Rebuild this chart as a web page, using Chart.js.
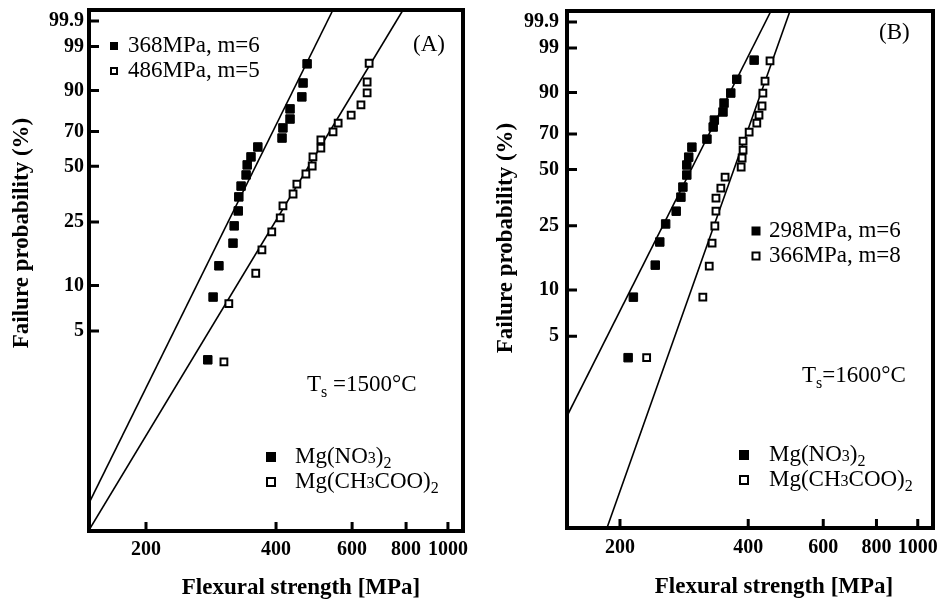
<!DOCTYPE html>
<html>
<head>
<meta charset="utf-8">
<script src="https://cdn.jsdelivr.net/npm/chart.js@4.4.1/dist/chart.umd.min.js"></script>
<style>
  html, body { margin: 0; padding: 0; background: #fff; }
  #wrap { position: relative; width: 948px; height: 605px; }
  canvas { position: absolute; top: 0; }
  #panelA { left: 0; }
  #panelB { left: 474px; }
</style>
</head>
<body>
<div id="wrap">
  <canvas id="panelA" width="474" height="605"></canvas>
  <canvas id="panelB" width="474" height="605"></canvas>
</div>
<script>
// ---- axes ----
const xTicks = [200, 400, 600, 800, 1000];
const yTicks = [5, 10, 25, 50, 70, 90, 99, 99.9];

// ---- panel A, Ts = 1500 C ----
const aNitrateStrength = [278, 286, 295, 318, 320, 327, 328, 332, 341, 343, 350, 363, 413, 415, 431, 431, 459, 462, 472];
const aNitrateProb     = [3.2, 8.4, 13.4, 18.6, 23.7, 29.0, 34.8, 39.8, 45.4, 50.8, 55.3, 61.0, 66.2, 72.0, 76.9, 82.1, 87.5, 92.5, 97.0];
const aAcetateStrength = [303, 311, 359, 371, 391, 409, 415, 438, 447, 469, 485, 487, 508, 508, 542, 557, 597, 629, 650, 650, 657];
const aAcetateProb     = [3.1, 7.6, 12.0, 16.9, 21.8, 26.4, 31.0, 36.1, 40.8, 45.9, 50.2, 55.3, 60.4, 65.1, 69.7, 74.7, 79.0, 84.0, 89.1, 92.8, 97.1];
// fitted lines, end points
const aNitrateFitStrength = [147.6, 541.7];
const aNitrateFitProb     = [0.337, 99.973];
const aAcetateFitStrength = [147.6, 787];
const aAcetateFitProb     = [0.2202, 99.973];

// ---- panel B, Ts = 1600 C ----
const bNitrateStrength = [209, 215, 242, 248, 256, 271, 278, 281, 287, 287, 290, 295, 320, 331, 333, 349, 351, 364, 376, 413];
const bNitrateProb     = [3.6, 9.0, 14.4, 20.0, 25.6, 30.3, 36.2, 40.9, 47.0, 52.4, 56.8, 62.5, 67.1, 73.9, 77.6, 81.7, 85.8, 89.8, 94.1, 97.8];
const bAcetateStrength = [231, 313, 324, 329, 334, 336, 336, 345, 353, 385, 387, 389, 389, 402, 419, 424, 431, 433, 438, 450];
const bAcetateProb     = [3.6, 9.0, 14.2, 19.7, 24.9, 30.3, 35.8, 40.4, 45.9, 51.3, 56.3, 60.8, 66.0, 71.1, 76.0, 80.2, 84.5, 89.8, 93.6, 97.7];
const bNitrateFitStrength = [150.2, 452.4];
const bNitrateFitProb     = [1.4635, 99.973];
const bAcetateFitStrength = [186.4, 501.3];
const bAcetateFitProb     = [0.2564, 99.973];

const SERIF = "'Liberation Serif', 'Times New Roman', serif";
Chart.defaults.font.family = SERIF;
Chart.defaults.color = '#000';

// Weibull probability axis: ln(-ln(1 - F))
const weib = p => Math.log(-Math.log(1 - p / 100));

class WeibullScale extends Chart.Scale {
  static id = 'weibull';
  static defaults = {};
  determineDataLimits() {
    this.min = this.options.min;
    this.max = this.options.max;
  }
  buildTicks() {
    return this.options.tickValues.map(v => ({ value: v }));
  }
  getLabelForValue(v) { return String(v); }
  configure() {
    super.configure();
    this._lo = weib(this.min);
    this._hi = weib(this.max);
  }
  getPixelForValue(v) {
    return this.getPixelForDecimal((weib(v) - this._lo) / (this._hi - this._lo));
  }
  getValueForPixel(px) {
    const w = this._lo + this.getDecimalForPixel(px) * (this._hi - this._lo);
    return 100 * (1 - Math.exp(-Math.exp(w)));
  }
}
Chart.register(WeibullScale);

const pts = (xs, ys) => xs.map((x, i) => ({ x: x, y: ys[i] }));

function drawRuns(ctx, x, y, runs) {
  runs.forEach(r => {
    ctx.font = r.size + 'px ' + SERIF;
    ctx.fillText(r.t, x, y + (r.dy || 0));
    x += ctx.measureText(r.t).width;
  });
}

function makeDecor(cfg) {
  return {
    id: 'decor',
    afterDraw(chart) {
      const ctx = chart.ctx, a = chart.chartArea;
      const xs = chart.scales.x, ys = chart.scales.y;
      ctx.save();
      ctx.strokeStyle = '#000';
      ctx.fillStyle = '#000';
      // inward tick marks
      ctx.lineWidth = 3;
      ctx.beginPath();
      ys.ticks.forEach((t, i) => {
        const p = ys.getPixelForTick(i);
        ctx.moveTo(a.left, p); ctx.lineTo(a.left + 10, p);
      });
      xs.ticks.forEach((t, i) => {
        const p = xs.getPixelForTick(i);
        ctx.moveTo(p, a.bottom); ctx.lineTo(p, a.bottom - 9);
      });
      ctx.stroke();
      // frame
      ctx.lineWidth = 4;
      ctx.strokeRect(a.left, a.top, a.right - a.left, a.bottom - a.top);

      // legend glyphs
      cfg.boxes.forEach(b => {
        if (b.filled) {
          ctx.fillRect(b.x - b.s / 2, b.y - b.s / 2, b.s, b.s);
        } else {
          ctx.lineWidth = 2;
          ctx.strokeRect(b.x - b.s / 2 + 1, b.y - b.s / 2 + 1, b.s - 2, b.s - 2);
        }
      });
      // annotation text
      ctx.textBaseline = 'middle';
      ctx.textAlign = 'left';
      cfg.texts.forEach(t => drawRuns(ctx, t.x, t.y, t.runs));

      // axis titles
      ctx.font = 'bold 23px ' + SERIF;
      ctx.textAlign = 'center';
      ctx.fillText('Flexural strength [MPa]', cfg.xTitle[0], cfg.xTitle[1]);
      ctx.translate(cfg.yTitle[0], cfg.yTitle[1]);
      ctx.rotate(-Math.PI / 2);
      ctx.fillText('Failure probability (%)', 0, 0);
      ctx.restore();
    }
  };
}

function makePanel(id, p) {
  return new Chart(document.getElementById(id), {
    type: 'scatter',
    data: {
      datasets: [
        { data: pts(p.nitS, p.nitP), pointStyle: 'rect', pointRadius: 6,
          backgroundColor: '#000', borderColor: '#000', borderWidth: 1, order: 0 },
        { data: pts(p.aceS, p.aceP), pointStyle: 'rect', pointRadius: 4.8,
          backgroundColor: '#fff', borderColor: '#000', borderWidth: 2, order: 0 },
        { data: pts(p.nitFitS, p.nitFitP), showLine: true, pointRadius: 0,
          borderColor: '#000', borderWidth: 1.6, order: 1 },
        { data: pts(p.aceFitS, p.aceFitP), showLine: true, pointRadius: 0,
          borderColor: '#000', borderWidth: 1.6, order: 1 }
      ]
    },
    options: {
      responsive: false,
      animation: false,
      layout: { padding: { left: 0, right: p.padRight, top: p.padTop, bottom: 0 } },
      plugins: { legend: { display: false }, tooltip: { enabled: false } },
      scales: {
        x: {
          type: 'logarithmic', position: 'bottom',
          min: p.xMin, max: p.xMax,
          grid: { display: false, drawTicks: false },
          border: { display: false },
          afterBuildTicks: s => { s.ticks = xTicks.map(v => ({ value: v })); },
          ticks: { autoSkip: false, maxRotation: 0, padding: p.xLabelPad,
                   font: { size: 20, weight: 'bold' }, callback: v => String(v) },
          afterFit: s => { s.height = p.xAxisH; s.paddingLeft = 0; s.paddingRight = 0; }
        },
        y: {
          type: 'weibull', position: 'left',
          min: p.yMin, max: p.yMax, tickValues: yTicks,
          grid: { display: false, drawTicks: false },
          border: { display: false },
          ticks: { autoSkip: false, padding: p.yLabelPad,
                   font: { size: 20, weight: 'bold' }, callback: v => String(v) },
          afterFit: s => { s.width = p.yAxisW; s.paddingTop = 0; s.paddingBottom = 0; }
        }
      }
    },
    plugins: [makeDecor(p.decor)]
  });
}

const big = 23, small = 16;

makePanel('panelA', {
  nitS: aNitrateStrength, nitP: aNitrateProb,
  aceS: aAcetateStrength, aceP: aAcetateProb,
  nitFitS: aNitrateFitStrength, nitFitP: aNitrateFitProb,
  aceFitS: aAcetateFitStrength, aceFitP: aAcetateFitProb,
  xMin: 147.6, xMax: 1083.6, yMin: 0.2168, yMax: 99.973,
  padRight: 11, padTop: 10, xAxisH: 74, yAxisW: 89, xLabelPad: 7, yLabelPad: 5,
  decor: {
    xTitle: [301, 588], yTitle: [22, 233],
    boxes: [
      { x: 114, y: 46, s: 8, filled: true }, { x: 114, y: 71, s: 8, filled: false },
      { x: 271, y: 457, s: 10, filled: true }, { x: 271, y: 482, s: 10, filled: false }
    ],
    texts: [
      { x: 128, y: 46, runs: [{ t: '368MPa, m=6', size: big }] },
      { x: 128, y: 71, runs: [{ t: '486MPa, m=5', size: big }] },
      { x: 413, y: 45, runs: [{ t: '(A)', size: big }] },
      { x: 307, y: 385, runs: [{ t: 'T', size: big }, { t: 's', size: small, dy: 8 }, { t: ' =1500°C', size: big }] },
      { x: 295, y: 457, runs: [{ t: 'Mg(NO', size: big }, { t: '3', size: small, dy: 2 }, { t: ')', size: big }, { t: '2', size: small, dy: 7 }] },
      { x: 295, y: 482, runs: [{ t: 'Mg(CH', size: big }, { t: '3', size: small, dy: 2 }, { t: 'COO)', size: big }, { t: '2', size: small, dy: 7 }] }
    ]
  }
});

makePanel('panelB', {
  nitS: bNitrateStrength, nitP: bNitrateProb,
  aceS: bAcetateStrength, aceP: bAcetateProb,
  nitFitS: bNitrateFitStrength, nitFitP: bNitrateFitProb,
  aceFitS: bAcetateFitStrength, aceFitP: bAcetateFitProb,
  xMin: 150.2, xMax: 1085.9, yMin: 0.2564, yMax: 99.973,
  padRight: 15, padTop: 11, xAxisH: 77, yAxisW: 93, xLabelPad: 8, yLabelPad: 8,
  decor: {
    xTitle: [300, 587], yTitle: [32, 238],
    boxes: [
      { x: 282, y: 231, s: 9, filled: true }, { x: 282, y: 256, s: 9, filled: false },
      { x: 270, y: 455, s: 10, filled: true }, { x: 270, y: 480, s: 10, filled: false }
    ],
    texts: [
      { x: 295, y: 231, runs: [{ t: '298MPa, m=6', size: big }] },
      { x: 295, y: 256, runs: [{ t: '366MPa, m=8', size: big }] },
      { x: 405, y: 33, runs: [{ t: '(B)', size: big }] },
      { x: 328, y: 376, runs: [{ t: 'T', size: big }, { t: 's', size: small, dy: 8 }, { t: '=1600°C', size: big }] },
      { x: 295, y: 455, runs: [{ t: 'Mg(NO', size: big }, { t: '3', size: small, dy: 2 }, { t: ')', size: big }, { t: '2', size: small, dy: 7 }] },
      { x: 295, y: 480, runs: [{ t: 'Mg(CH', size: big }, { t: '3', size: small, dy: 2 }, { t: 'COO)', size: big }, { t: '2', size: small, dy: 7 }] }
    ]
  }
});
</script>
</body>
</html>
